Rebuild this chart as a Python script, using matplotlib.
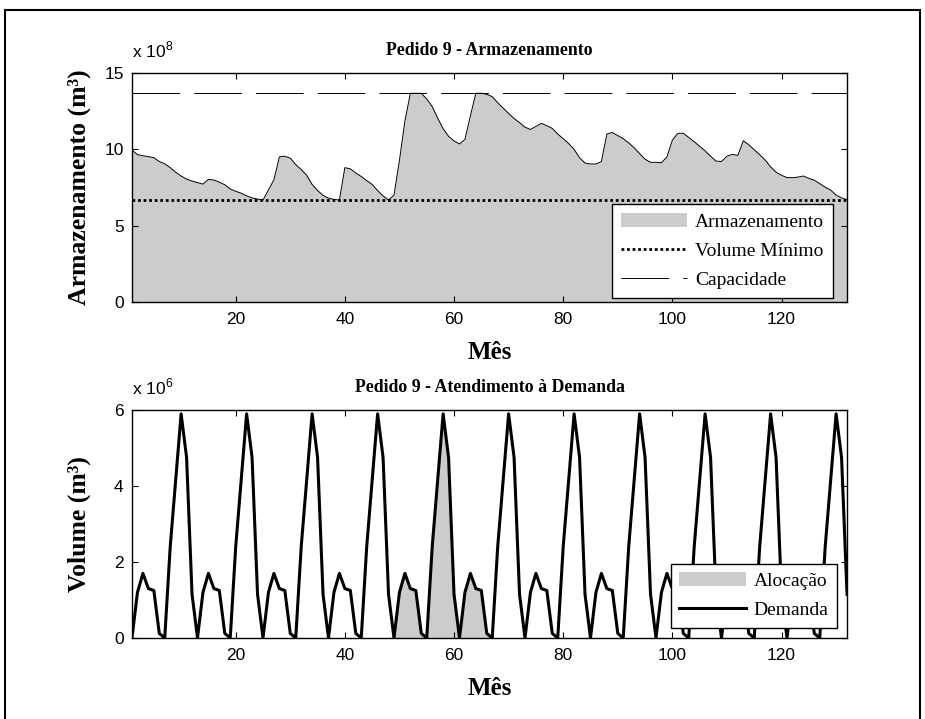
import numpy as np
import matplotlib
matplotlib.use('Agg')
import matplotlib.pyplot as plt
from matplotlib.patches import Rectangle
from matplotlib.ticker import FuncFormatter

plt.rcParams['font.family'] = 'Liberation Sans'
plt.rcParams['mathtext.fontset'] = 'custom'
plt.rcParams['mathtext.rm'] = 'Liberation Sans'

# meses 1..132
meses = np.arange(1, 133)

# armazenamento (x 1e8 m3)
armazenamento = [
    9.95, 9.65, 9.58, 9.52, 9.45, 9.20, 9.05, 8.80, 8.50, 8.25, 8.05, 7.92,
    7.82, 7.72, 8.03, 7.99, 7.85, 7.68, 7.40, 7.25, 7.13, 6.95, 6.82, 6.74,
    6.68, 7.34, 8.00, 9.50, 9.55, 9.42, 9.00, 8.68, 8.30, 7.70, 7.30, 6.98,
    6.80, 6.72, 6.68, 8.80, 8.72, 8.45, 8.22, 7.95, 7.70, 7.30, 6.95, 6.68,
    7.00, 9.28, 11.86, 13.67, 13.67, 13.67, 13.30, 12.80, 12.05, 11.35, 10.85, 10.55,
    10.35, 10.65, 12.20, 13.67, 13.67, 13.60, 13.45, 13.05, 12.70, 12.35, 12.02, 11.75,
    11.45, 11.30, 11.50, 11.70, 11.55, 11.37, 11.00, 10.70, 10.38, 10.00, 9.45, 9.10,
    9.04, 9.04, 9.20, 11.00, 11.10, 10.90, 10.70, 10.42, 10.10, 9.72, 9.35, 9.15,
    9.15, 9.12, 9.50, 10.60, 11.05, 11.05, 10.78, 10.50, 10.20, 9.90, 9.55, 9.23,
    9.20, 9.55, 9.67, 9.60, 10.56, 10.30, 9.97, 9.65, 9.30, 8.85, 8.50, 8.30,
    8.15, 8.14, 8.18, 8.25, 8.10, 7.98, 7.75, 7.52, 7.33, 7.00, 6.82, 6.70,
]
volume_minimo = 6.68
capacidade = 13.67

# demanda (x 1e6 m3), um ano por linha
demanda = [
    0, 1.2, 1.7, 1.3, 1.25, 0.12, 0, 2.4, 4.15, 5.9, 4.75, 1.15,
    0, 1.2, 1.7, 1.3, 1.25, 0.12, 0, 2.4, 4.15, 5.9, 4.75, 1.15,
    0, 1.2, 1.7, 1.3, 1.25, 0.12, 0, 2.4, 4.15, 5.9, 4.75, 1.15,
    0, 1.2, 1.7, 1.3, 1.25, 0.12, 0, 2.4, 4.15, 5.9, 4.75, 1.15,
    0, 1.2, 1.7, 1.3, 1.25, 0.12, 0, 2.4, 4.15, 5.9, 4.75, 1.15,
    0, 1.2, 1.7, 1.3, 1.25, 0.12, 0, 2.4, 4.15, 5.9, 4.75, 1.15,
    0, 1.2, 1.7, 1.3, 1.25, 0.12, 0, 2.4, 4.15, 5.9, 4.75, 1.15,
    0, 1.2, 1.7, 1.3, 1.25, 0.12, 0, 2.4, 4.15, 5.9, 4.75, 1.15,
    0, 1.2, 1.7, 1.3, 1.25, 0.12, 0, 2.4, 4.15, 5.9, 4.75, 1.15,
    0, 1.2, 1.7, 1.3, 1.25, 0.12, 0, 2.4, 4.15, 5.9, 4.75, 1.15,
    0, 1.2, 1.7, 1.3, 1.25, 0.12, 0, 2.4, 4.15, 5.9, 4.75, 1.15,
]
# alocacao so nos meses 49..67
alocacao = [0] * 48 + [
    0, 1.2, 1.7, 1.3, 1.25, 0.12, 0, 2.4, 4.15, 5.9, 4.75, 1.15,
    0, 1.2, 1.7, 1.3, 1.25, 0.12, 0,
] + [0] * 65

serif = 'Liberation Serif'
cinza = '#cccccc'

fig = plt.figure(figsize=(9.25, 7.19), dpi=100)
fig.patches.append(Rectangle((0.0054, -0.01), 0.9892, 0.996, transform=fig.transFigure,
                             fill=False, edgecolor='black', linewidth=1.5))

ax1 = fig.add_axes([0.1427, 0.580, 0.773, 0.3185])
ax2 = fig.add_axes([0.1427, 0.1127, 0.773, 0.317])

leg_kw = dict(loc='lower right', fancybox=False, edgecolor='black', framealpha=1,
              prop={'family': serif, 'size': 14}, handlelength=3.4,
              handletextpad=0.4, labelspacing=0.6, borderpad=0.45, borderaxespad=0)

# --- armazenamento ---
arm = np.array(armazenamento) * 1e8
ax1.fill_between(meses, arm, facecolor=cinza, edgecolor='#555555', linewidth=0,
                 label='Armazenamento')
ax1.plot(meses, arm, color='black', linewidth=0.7)
ax1.plot([1, 132], [volume_minimo * 1e8] * 2, color='black', linewidth=2.0,
         dashes=(1, 1), label='Volume Mínimo')
ax1.plot([1, 132], [capacidade * 1e8] * 2, color='black', linewidth=0.7,
         dashes=(49, 14.5), label='Capacidade')
ax1.set_xlim(1, 132)
ax1.set_ylim(0, 15e8)
ax1.set_yticks([0, 5e8, 10e8, 15e8])
ax1.yaxis.set_major_formatter(FuncFormatter(lambda v, p: '%g' % (v / 1e8)))
ax1.text(0.0, 1.055, 'x 10$^{8}$', transform=ax1.transAxes, fontsize=12.5, va='bottom')
ax1.set_title('Pedido 9 - Armazenamento', fontfamily=serif, fontweight='bold',
              fontsize=12.8, pad=13)
ax1.set_xlabel('Mês', fontfamily=serif, fontweight='bold', fontsize=18, labelpad=10)
ax1.set_ylabel('Armazenamento (m³)', fontfamily=serif, fontweight='bold', fontsize=18.5)
h, l = ax1.get_legend_handles_labels()
ax1.legend(h, l, bbox_to_anchor=(0.980, 0.0175), **leg_kw)

# --- demanda ---
dem = np.array(demanda) * 1e6
alo = np.array(alocacao, dtype=float) * 1e6
ax2.fill_between(meses, 0, alo, facecolor=cinza, edgecolor='#555555', linewidth=0,
                 label='Alocação')
ax2.plot(meses, dem, color='black', linewidth=2.2, label='Demanda')
ax2.set_xlim(1, 132)
ax2.set_ylim(0, 6e6)
ax2.set_yticks([0, 2e6, 4e6, 6e6])
ax2.yaxis.set_major_formatter(FuncFormatter(lambda v, p: '%g' % (v / 1e6)))
ax2.text(0.0, 1.055, 'x 10$^{6}$', transform=ax2.transAxes, fontsize=12.5, va='bottom')
ax2.set_title('Pedido 9 - Atendimento à Demanda', fontfamily=serif, fontweight='bold',
              fontsize=12.8, pad=13)
ax2.set_xlabel('Mês', fontfamily=serif, fontweight='bold', fontsize=18, labelpad=10)
ax2.set_ylabel('Volume (m³)', fontfamily=serif, fontweight='bold', fontsize=18.5)
ax2.legend(bbox_to_anchor=(0.986, 0.044), **leg_kw)

for ax in (ax1, ax2):
    ax.set_xticks([20, 40, 60, 80, 100, 120])
    ax.tick_params(direction='in', top=True, right=True, labelsize=12.5, length=4)
    ax.tick_params(axis='x', pad=7)
    ax.tick_params(axis='y', pad=6)
    ax.yaxis.set_label_coords(-0.058, 0.5)
    for s in ax.spines.values():
        s.set_linewidth(1.0)

fig.savefig('out.png', dpi=100)
